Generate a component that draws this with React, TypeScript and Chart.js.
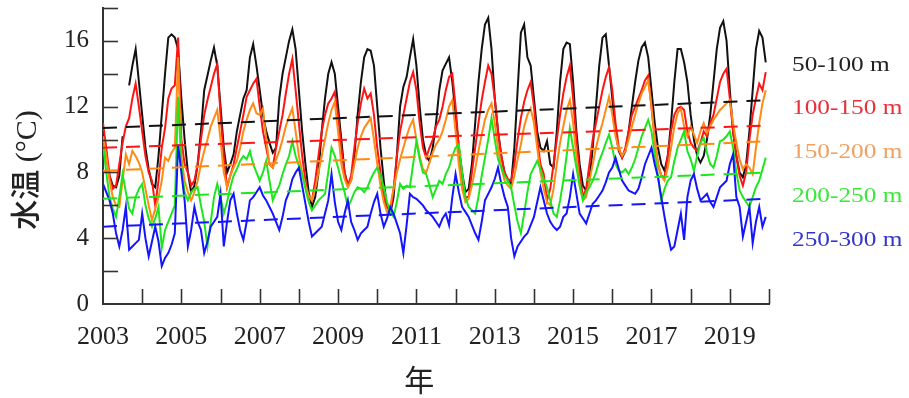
import React, { useEffect, useRef } from "react";
import { Chart, registerables } from "chart.js";

Chart.register(...registerables);

// ---------- data ----------
const startYear = 2003;
const endYear = 2020;

const seriesLabels = ["50-100 m", "100-150 m", "150-200 m", "200-250 m", "250-300 m"];

// monthly means, Jan 2003 .. Dec 2019
const temp50_100: (number | null)[] = [
  10.5, 9.0, 7.8, 7.2, 7.1, 7.8, 10.2, null, 13.3, 14.5, 15.5, 13.5,
  11.5, 9.5, 8.2, 7.3, 7.1, 9.0, 11.5, 14.0, 16.2, 16.4, 16.2, 15.5,
  12.5, 10.0, 8.0, 6.8, 7.2, 8.5, 10.5, 13.0, 13.9, 14.8, 15.6, 14.5,
  12.0, 9.5, 8.0, 8.5, 9.1, 10.5, 11.5, 12.5, 13.0, 15.0, 15.8, 14.5,
  13.0, 11.5, 10.5, 9.8, 9.2, 9.5, 12.5, 14.0, 15.0, 16.0, 16.7, 15.5,
  13.0, 10.5, 8.5, 6.8, 5.9, 6.5, 8.0, 10.5, 12.5, 14.0, 14.7, 14.0,
  12.0, 10.0, 8.0, 7.2, 7.5, 9.0, 11.5, 13.5, 15.0, 15.5, 15.4, 14.5,
  12.0, 9.5, 7.5, 5.8, 5.5, 6.5, 9.0, 12.0, 13.2, 13.8, 15.0, 16.1,
  14.5, 12.0, 10.0, 9.0, 8.7, 9.5, 11.0, 13.0, 14.2, 14.6, 15.0, 13.5,
  11.5, 9.5, 8.0, 6.8, 7.0, 8.5, 11.0, 13.5, 15.5, 17.0, 17.4, 15.5,
  12.5, 10.5, 9.0, 8.0, 7.5, 7.3, 9.5, 13.0, 16.5, 17.0, 15.0, 14.5,
  12.5, 10.5, 9.5, 9.3, 9.9, 8.5, 8.3, 10.5, 13.5, 15.5, 15.9, 15.8,
  13.5, 10.5, 8.5, 7.2, 6.9, 7.5, 9.5, 12.0, 14.5, 16.2, 16.4, 14.5,
  12.5, 10.5, 9.3, 8.9, 9.3, 10.5, 12.0, 13.5, 14.8, 15.6, 15.9, 15.0,
  13.0, 11.0, 9.5, 8.5, 8.1, 9.0, 11.0, 13.5, 15.5, 15.5, 14.7, 13.5,
  11.5, 10.0, 9.0, 8.6, 9.0, 10.0, 11.5, 13.5, 15.5, 16.8, 17.2, 16.0,
  13.0, 10.5, 9.0, 8.0, 7.7, 8.5, 10.5, 13.0, 15.5, 16.6, 16.2, 14.7,
];

const temp100_150: number[] = [
  11.0, 9.5, 7.8, 7.0, 7.2, 8.5, 9.8, 10.8, 11.3, 12.5, 13.4, 12.0,
  10.5, 9.0, 8.0, 7.5, 6.0, 7.5, 9.5, 10.7, 12.5, 13.1, 13.3, 16.2,
  10.0, 8.5, 8.0, 7.2, 7.5, 8.5, 10.0, 11.5, 12.4, 13.2, 14.0, 14.6,
  11.5, 9.0, 7.1, 7.8, 8.5, 9.5, 10.5, 11.5, 12.6, 13.0, 13.4, 13.7,
  12.0, 10.5, 9.5, 8.5, 8.3, 9.5, 10.5, 11.5, 12.8, 14.0, 14.9, 13.0,
  11.0, 9.0, 7.5, 6.5, 6.3, 7.5, 9.0, 10.5, 11.5, 12.2, 12.5, 12.9,
  11.5, 9.5, 8.0, 7.2, 7.8, 9.5, 11.0, 12.2, 13.1, 12.5, 12.8, 11.5,
  9.5, 8.0, 6.5, 5.7, 5.5, 7.0, 9.0, 10.5, 11.5, 12.5, 13.5, 14.1,
  13.0, 11.0, 9.5, 8.9, 9.5, 10.0, 10.8, 11.2, 12.0, 13.0, 13.8, 14.0,
  12.0, 9.5, 7.5, 6.5, 6.5, 8.0, 9.5, 11.0, 12.4, 13.5, 14.5, 14.0,
  12.5, 10.5, 9.0, 8.0, 7.6, 7.5, 8.5, 10.0, 11.3, 12.3, 13.0, 13.5,
  12.0, 10.0, 8.5, 7.9, 6.3, 7.0, 8.5, 10.0, 11.5, 12.8, 13.8, 14.5,
  12.5, 10.0, 8.0, 6.5, 7.0, 8.5, 10.0, 11.0, 12.0, 13.0, 13.8, 14.4,
  13.0, 11.0, 9.5, 8.9, 9.5, 10.5, 11.5, 12.0, 12.5, 13.0, 13.6, 13.9,
  12.0, 10.0, 8.5, 7.8, 7.7, 9.0, 10.5, 11.5, 11.9, 12.0, 11.8, 10.5,
  9.8, 9.5, 9.3, 9.8, 10.5, 10.2, 11.0, 11.5, 12.5, 13.5, 14.0, 14.3,
  12.5, 10.5, 9.0, 7.8, 7.2, 8.0, 10.0, 11.5, 12.5, 13.4, 13.0, 14.1,
];

const temp150_200: number[] = [
  10.2, 9.0, 7.5, 6.5, 6.0, 5.9, 7.5, 9.1, 8.5, 9.3, 9.0, 8.6,
  8.0, 7.0, 6.0, 5.1, 5.8, 6.5, 7.5, 8.9, 8.7, 9.2, 9.5, 15.0,
  9.0, 7.5, 6.8, 6.3, 6.8, 7.5, 8.5, 9.3, 10.0, 10.8, 11.3, 11.8,
  10.0, 8.0, 7.1, 7.8, 8.3, 8.7, 9.5, 10.5, 11.2, 11.8, 12.2, 11.6,
  11.5, 11.9, 10.0, 8.5, 8.3, 8.8, 9.3, 10.0, 10.8, 11.4, 11.9, 10.5,
  9.0, 8.0, 7.2, 6.6, 6.3, 7.0, 8.0, 9.0, 10.0, 11.0, 11.8, 12.3,
  10.5, 8.5, 7.6, 7.1, 7.5, 8.5, 9.5, 10.2, 10.7, 11.0, 11.3, 10.0,
  8.5, 7.2, 6.2, 5.6, 6.0, 7.0, 8.0, 8.8, 9.5, 10.2, 10.8, 11.2,
  10.0, 9.0, 8.2, 8.0, 8.6, 9.2, 9.7, 10.0, 10.5, 11.2, 12.0, 12.4,
  10.5, 8.5, 7.0, 6.2, 6.4, 7.2, 8.2, 9.3, 10.3, 11.2, 11.8, 12.2,
  11.0, 9.5, 8.3, 7.5, 7.2, 7.0, 7.8, 8.8, 9.7, 10.8, 11.5, 11.9,
  11.0, 9.5, 8.0, 7.0, 6.2, 6.0, 7.0, 8.5, 9.8, 10.8, 11.8, 12.4,
  11.0, 9.0, 7.2, 6.3, 6.5, 7.5, 8.5, 9.5, 10.3, 11.0, 11.8, 12.6,
  11.5, 10.2, 9.4, 9.0, 9.3, 10.0, 10.8, 11.5, 12.2, 12.8, 13.2, 13.6,
  12.0, 10.0, 8.5, 7.8, 7.5, 8.3, 9.5, 10.8, 11.6, 11.9, 10.8, 10.2,
  10.8, 10.3, 9.8, 10.5, 11.0, 10.4, 10.8, 11.2, 11.5, 11.8, 12.0, 12.2,
  12.4, 11.0, 9.8, 8.8, 8.2, 8.5, 8.3, 7.9, 9.5, 11.0, 12.2, 13.0,
];

const temp200_250: number[] = [
  9.7, 8.0, 6.5, 5.8, 5.3, 6.5, 7.9, 6.8, 5.8, 5.5, 6.5, 7.0,
  7.3, 6.0, 5.2, 4.7, 5.2, 5.9, 3.4, 4.5, 5.0, 5.5, 6.0, 12.6,
  8.5, 6.8, 6.3, 6.8, 7.0, 7.1, 6.0, 5.0, 3.5, 5.0, 6.5, 7.3,
  6.5, 5.5, 6.2, 7.1, 7.8, 8.2, 8.7, 9.0, 8.8, 9.3, 8.5, 8.0,
  7.5, 8.0, 8.7, 7.5, 6.3, 6.8, 7.2, 7.9, 8.5, 9.0, 9.9, 9.0,
  8.4, 7.9, 7.0, 6.2, 5.7, 6.0, 6.3, 6.5, 6.7, 8.0, 9.5, 9.0,
  8.3, 7.5, 6.8, 5.9, 6.3, 6.8, 7.1, 7.0, 6.8, 7.1, 7.6, 8.0,
  8.3, 7.8, 7.1, 6.2, 5.6, 5.3, 6.2, 7.3, 7.0, 7.2, 7.1, 8.5,
  9.9, 8.8, 8.0, 7.9, 7.2, 6.5, 7.0, 7.5, 7.3, 7.9, 8.3, 9.0,
  9.5, 9.7, 8.0, 6.5, 5.9, 5.7, 5.5, 6.5, 7.8, 8.9, 10.0, 11.3,
  10.0, 8.8, 8.3, 7.8, 7.5, 7.1, 6.0, 5.0, 4.3, 5.5, 6.8, 7.9,
  8.3, 8.7, 8.2, 7.6, 7.1, 6.3, 5.5, 5.3, 6.3, 7.5, 9.0, 10.7,
  9.5, 8.3, 7.2, 6.3, 6.8, 7.1, 7.5, 8.0, 8.7, 9.2, 9.8, 10.3,
  9.5, 8.5, 8.1, 8.0, 8.2, 7.9, 8.3, 8.8, 9.5, 10.2, 10.7, 11.2,
  10.5, 9.1, 7.8, 6.3, 7.0, 7.5, 7.7, 8.7, 9.5, 10.0, 10.5, 9.3,
  8.8, 8.1, 9.0, 9.8, 10.1, 9.2, 8.5, 8.3, 9.0, 9.9, 10.0, 10.2,
  10.5, 9.5, 8.0, 6.9, 6.5, 6.2, 5.9, 6.5, 7.1, 7.5, 8.2, 8.9,
];

const temp250_300: number[] = [
  7.3, 6.8, 6.3, 5.5, 4.3, 3.5, 4.5, 5.9, 3.3, 3.5, 3.7, 3.9,
  5.5, 4.0, 2.9, 3.8, 4.7, 3.8, 2.3, 2.8, 3.1, 3.6, 4.3, 9.7,
  8.0, 6.3, 3.5, 4.5, 5.9, 5.0, 4.5, 3.1, 3.8, 4.7, 5.0, 5.3,
  6.7, 3.5, 5.0, 6.3, 6.7, 5.5, 4.5, 3.9, 5.0, 6.3, 6.5, 6.8,
  7.1, 6.6, 6.3, 5.9, 5.5, 5.0, 4.5, 5.3, 6.3, 6.8, 7.6, 8.0,
  8.3, 7.2, 6.1, 5.0, 4.1, 4.3, 4.5, 4.7, 5.5, 6.3, 7.9, 6.2,
  5.0, 4.5, 5.5, 6.3, 5.0, 4.5, 3.9, 4.3, 4.5, 4.7, 5.5, 6.2,
  6.7, 5.5, 4.7, 5.2, 5.9, 5.5, 4.9, 4.3, 3.1, 4.8, 6.7, 6.5,
  6.4, 6.2, 6.0, 5.7, 5.5, 5.3, 5.0, 4.7, 5.2, 5.5, 4.8, 6.5,
  7.9, 6.8, 5.9, 5.6, 5.3, 4.8, 4.3, 3.9, 5.0, 6.3, 6.7, 7.1,
  7.6, 8.3, 7.3, 6.5, 5.9, 4.0, 2.9, 3.5, 3.8, 4.1, 4.3, 4.8,
  5.3, 6.2, 7.1, 6.3, 5.5, 5.0, 4.7, 4.5, 4.7, 5.3, 5.5, 6.5,
  7.9, 6.7, 5.5, 5.2, 4.9, 5.5, 6.1, 6.3, 6.6, 6.9, 7.4, 8.0,
  8.3, 8.9, 8.2, 7.5, 7.2, 6.9, 6.8, 6.7, 7.0, 7.7, 8.5, 9.0,
  9.5, 8.5, 7.7, 6.5, 5.3, 4.2, 3.3, 3.5, 4.5, 5.5, 3.9, 6.5,
  7.5, 7.9, 7.0, 6.3, 6.5, 6.7, 6.2, 5.9, 6.5, 7.1, 7.3, 7.5,
  8.5, 9.1, 6.5, 5.9, 4.1, 5.0, 5.9, 3.7, 5.0, 5.9, 4.7, 5.3,
];

// linear trend lines: value at start (2003) and end (2020)
const trend50_100 = [10.7, 12.4];
const trend100_150 = [9.5, 10.85];
const trend150_200 = [8.1, 9.9];
const trend200_250 = [6.4, 8.0];
const trend250_300 = [4.7, 6.4];

const yTickLabelEvery = 4;
const xTickLabelEvery = 2;

const lineColors = ["#111111", "#ff1414", "#ff8a14", "#1ee61e", "#1414ff"];
const legendColors = ["#222222", "#e8303a", "#f0a060", "#3ae83a", "#3535cc"];

const SERIF = '"Liberation Serif", "Times New Roman", Times, serif';

function toPoints(vals: (number | null)[]) {
  return vals.map((v, i) => ({ x: startYear + i / 12, y: v }));
}
function trendPoints(t: number[]) {
  return [
    { x: startYear, y: t[0] },
    { x: endYear, y: t[1] },
  ];
}

export default function App() {
  const ref = useRef<HTMLCanvasElement | null>(null);

  useEffect(() => {
    let chart: Chart | null = null;
    let cancelled = false;

    const build = () => {
      if (cancelled || !ref.current) return;
      const series = [temp50_100, temp100_150, temp150_200, temp200_250, temp250_300];
      const trends = [trend50_100, trend100_150, trend150_200, trend200_250, trend250_300];

      const datasets: any[] = [];
      trends.forEach((t, i) => {
        datasets.push({
          label: seriesLabels[i] + " trend",
          data: trendPoints(t),
          borderColor: lineColors[i],
          borderWidth: 2,
          borderDash: [14, 9],
          pointRadius: 0,
          order: 0,
        });
      });
      series.forEach((s, i) => {
        datasets.push({
          label: seriesLabels[i],
          data: toPoints(s),
          borderColor: lineColors[i],
          borderWidth: 2,
          pointRadius: 0,
          tension: 0,
          spanGaps: false,
          order: 10 - i,
        });
      });

      const decor = {
        id: "decor",
        afterDraw(c: any) {
          const ctx = c.ctx as CanvasRenderingContext2D;
          const ca = c.chartArea;
          const xs = c.scales.x;
          const ys = c.scales.y;
          ctx.save();
          ctx.strokeStyle = "#333";
          ctx.lineWidth = 1.6;
          ys.ticks.forEach((t: any) => {
            if (t.value === 0) return;
            const y = Math.round(ys.getPixelForValue(t.value)) + 0.5;
            ctx.beginPath();
            ctx.moveTo(ca.left, y);
            ctx.lineTo(ca.left + 15, y);
            ctx.stroke();
          });
          xs.ticks.forEach((t: any) => {
            if (t.value === startYear) return;
            const x = Math.round(xs.getPixelForValue(t.value)) + 0.5;
            ctx.beginPath();
            ctx.moveTo(x, ca.bottom);
            ctx.lineTo(x, ca.bottom - 15);
            ctx.stroke();
          });
          // legend text
          ctx.textBaseline = "middle";
          ctx.textAlign = "left";
          ctx.font = "22px " + SERIF;
          const legendX = ca.right + 23;
          const legendTop = ca.top + 57;
          seriesLabels.forEach((lab, i) => {
            ctx.save();
            ctx.fillStyle = legendColors[i];
            ctx.translate(legendX, legendTop + i * 43.7);
            ctx.scale(1.15, 1);
            ctx.fillText(lab, 0, 0);
            ctx.restore();
          });
          // axis titles
          ctx.fillStyle = "#222";
          ctx.font = '30px "Noto Sans CJK JP", ' + SERIF;
          ctx.textAlign = "center";
          ctx.fillText("年", ca.left + (ca.right - ca.left) * 0.475, ca.bottom + 76);
          ctx.save();
          ctx.translate(28, (ca.top + ca.bottom) / 2 + 14);
          ctx.rotate(-Math.PI / 2);
          ctx.font = "500 30px " + SERIF + ', "Noto Sans CJK JP"';
          ctx.fillText("水温 (°C)", 0, 0);
          ctx.restore();
          ctx.restore();
        },
      };

      chart = new Chart(ref.current, {
        type: "line",
        data: { datasets },
        options: {
          animation: false,
          responsive: false,
          layout: { padding: { left: 0, top: 8, right: 140, bottom: 0 } },
          plugins: { legend: { display: false }, tooltip: { enabled: false } },
          scales: {
            x: {
              type: "linear",
              min: startYear,
              max: endYear,
              grid: { display: false, drawTicks: false },
              border: { display: true, color: "#333", width: 2 },
              ticks: {
                stepSize: 1,
                autoSkip: false,
                maxRotation: 0,
                padding: 18,
                color: "#222",
                font: { family: SERIF, size: 26 },
                callback: (v: any) =>
                  (Number(v) - startYear) % xTickLabelEvery === 0 && Number(v) < endYear ? String(v) : "",
              },
              afterFit: (s: any) => {
                s.height = 94;
                s.paddingLeft = 0;
                s.paddingRight = 0;
              },
            },
            y: {
              min: 0,
              max: 18,
              grid: { display: false, drawTicks: false },
              border: { display: true, color: "#333", width: 2 },
              ticks: {
                stepSize: 2,
                autoSkip: false,
                padding: 14,
                color: "#222",
                font: { family: SERIF, size: 25 },
                callback: (v: any) => (Number(v) % yTickLabelEvery === 0 ? String(v) : ""),
              },
              afterFit: (s: any) => {
                s.width = 103;
                s.paddingTop = 0;
                s.paddingBottom = 0;
              },
            },
          },
        },
        plugins: [decor],
      });
    };

    const fontsApi: any = (document as any).fonts;
    if (fontsApi && fontsApi.load) {
      Promise.all([
        fontsApi.load('22px "Liberation Serif"'),
        fontsApi.load('30px "Noto Sans CJK JP"', "水温年"),
      ])
        .catch(() => null)
        .then(build);
    } else {
      build();
    }

    return () => {
      cancelled = true;
      if (chart) chart.destroy();
    };
  }, []);

  return (
    <canvas
      ref={ref}
      width={909}
      height={398}
      style={{ position: "absolute", left: 0, top: 0, width: 909, height: 398, display: "block" }}
    />
  );
}
